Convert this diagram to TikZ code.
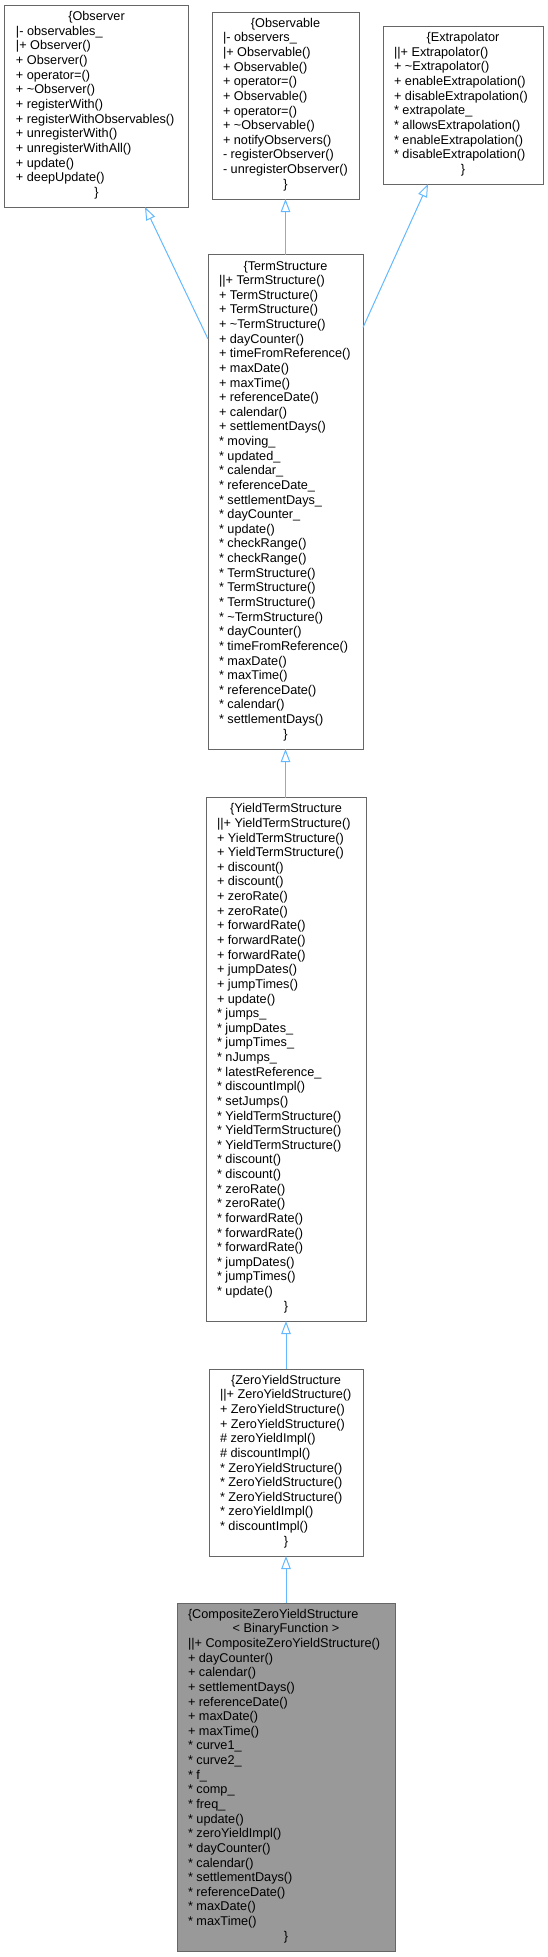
\documentclass[tikz,border=0pt]{standalone}
\usepackage{fontspec}
\setmainfont{Liberation Sans}
\usetikzlibrary{arrows.meta,calc}
\definecolor{boxgray}{HTML}{666666}
\definecolor{edgeblue}{HTML}{63B8FF}
\definecolor{fillgray}{HTML}{999999}
\newcommand{\ctrline}[1]{\makebox[\linewidth][c]{#1}}
\newcommand{\tl}{\textasciitilde}
\newcommand{\st}{{*}}
\tikzset{
  clsbox/.style={draw=boxgray, line width=1pt, fill=white, rectangle, inner sep=0pt, outer sep=0pt, anchor=north west},
  clstext/.style={anchor=base west, inner sep=0pt, outer sep=0pt, font=\fontsize{12.7}{14.63}\selectfont},
  inh/.style={draw=edgeblue, line width=1pt, -{Triangle[open, length=13pt, width=9.5pt]}},
}
\begin{document}
\begin{tikzpicture}[x=1pt,y=-1pt]
\useasboundingbox (0,0) rectangle (548,1957);
% boxes
\node[clsbox, minimum width=183.5pt, minimum height=201.6pt] (observer) at (4.5,5.4) {};
\node[clsbox, minimum width=147pt, minimum height=187pt] (observable) at (212,12) {};
\node[clsbox, minimum width=160pt, minimum height=157.7pt] (extrap) at (383,26.3) {};
\node[clsbox, minimum width=155pt, minimum height=494.3pt] (term) at (208,254.7) {};
\node[clsbox, minimum width=160pt, minimum height=523.5pt] (yield) at (206,797.5) {};
\node[clsbox, minimum width=154pt, minimum height=187pt] (zero) at (209,1369) {};
\node[clsbox, fill=fillgray, minimum width=218pt, minimum height=348pt] (comp) at (177,1603) {};
% texts
\node[clstext] (observer-t) at (16,20.7) {\parbox[t]{161pt}{\raggedright
\ctrline{\{Observer}\\
|- observables\_\\
|+ Observer()\\
+ Observer()\\
+ operator=()\\
+ \tl Observer()\\
+ registerWith()\\
+ registerWithObservables()\\
+ unregisterWith()\\
+ unregisterWithAll()\\
+ update()\\
+ deepUpdate()\\
\ctrline{\}}}};
\node[clstext] (observable-t) at (223,27.3) {\parbox[t]{125pt}{\raggedright
\ctrline{\{Observable}\\
|- observers\_\\
|+ Observable()\\
+ Observable()\\
+ operator=()\\
+ Observable()\\
+ operator=()\\
+ \tl Observable()\\
+ notifyObservers()\\
- registerObserver()\\
- unregisterObserver()\\
\ctrline{\}}}};
\node[clstext] (extrap-t) at (394,41.6) {\parbox[t]{138pt}{\raggedright
\ctrline{\{Extrapolator}\\
||+ Extrapolator()\\
+ \tl Extrapolator()\\
+ enableExtrapolation()\\
+ disableExtrapolation()\\
\st{} extrapolate\_\\
\st{} allowsExtrapolation()\\
\st{} enableExtrapolation()\\
\st{} disableExtrapolation()\\
\ctrline{\}}}};
\node[clstext] (term-t) at (219,270) {\parbox[t]{133pt}{\raggedright
\ctrline{\{TermStructure}\\
||+ TermStructure()\\
+ TermStructure()\\
+ TermStructure()\\
+ \tl TermStructure()\\
+ dayCounter()\\
+ timeFromReference()\\
+ maxDate()\\
+ maxTime()\\
+ referenceDate()\\
+ calendar()\\
+ settlementDays()\\
\st{} moving\_\\
\st{} updated\_\\
\st{} calendar\_\\
\st{} referenceDate\_\\
\st{} settlementDays\_\\
\st{} dayCounter\_\\
\st{} update()\\
\st{} checkRange()\\
\st{} checkRange()\\
\st{} TermStructure()\\
\st{} TermStructure()\\
\st{} TermStructure()\\
\st{} \tl TermStructure()\\
\st{} dayCounter()\\
\st{} timeFromReference()\\
\st{} maxDate()\\
\st{} maxTime()\\
\st{} referenceDate()\\
\st{} calendar()\\
\st{} settlementDays()\\
\ctrline{\}}}};
\node[clstext] (yield-t) at (217,812.8) {\parbox[t]{138pt}{\raggedright
\ctrline{\{YieldTermStructure}\\
||+ YieldTermStructure()\\
+ YieldTermStructure()\\
+ YieldTermStructure()\\
+ discount()\\
+ discount()\\
+ zeroRate()\\
+ zeroRate()\\
+ forwardRate()\\
+ forwardRate()\\
+ forwardRate()\\
+ jumpDates()\\
+ jumpTimes()\\
+ update()\\
\st{} jumps\_\\
\st{} jumpDates\_\\
\st{} jumpTimes\_\\
\st{} nJumps\_\\
\st{} latestReference\_\\
\st{} discountImpl()\\
\st{} setJumps()\\
\st{} YieldTermStructure()\\
\st{} YieldTermStructure()\\
\st{} YieldTermStructure()\\
\st{} discount()\\
\st{} discount()\\
\st{} zeroRate()\\
\st{} zeroRate()\\
\st{} forwardRate()\\
\st{} forwardRate()\\
\st{} forwardRate()\\
\st{} jumpDates()\\
\st{} jumpTimes()\\
\st{} update()\\
\ctrline{\}}}};
\node[clstext] (zero-t) at (220,1384.3) {\parbox[t]{132pt}{\raggedright
\ctrline{\{ZeroYieldStructure}\\
||+ ZeroYieldStructure()\\
+ ZeroYieldStructure()\\
+ ZeroYieldStructure()\\
\# zeroYieldImpl()\\
\# discountImpl()\\
\st{} ZeroYieldStructure()\\
\st{} ZeroYieldStructure()\\
\st{} ZeroYieldStructure()\\
\st{} zeroYieldImpl()\\
\st{} discountImpl()\\
\ctrline{\}}}};
\node[clstext] (comp-t) at (188,1618.3) {\parbox[t]{196pt}{\raggedright
\{CompositeZeroYieldStructure\\
\ctrline{< BinaryFunction >}\\
||+ CompositeZeroYieldStructure()\\
+ dayCounter()\\
+ calendar()\\
+ settlementDays()\\
+ referenceDate()\\
+ maxDate()\\
+ maxTime()\\
\st{} curve1\_\\
\st{} curve2\_\\
\st{} f\_\\
\st{} comp\_\\
\st{} freq\_\\
\st{} update()\\
\st{} zeroYieldImpl()\\
\st{} dayCounter()\\
\st{} calendar()\\
\st{} settlementDays()\\
\st{} referenceDate()\\
\st{} maxDate()\\
\st{} maxTime()\\
\ctrline{\}}}};
% inheritance edges
\draw[inh] ($(term.north west)+(0,84.3)$) -- ($(observer.south west)+(140.5,0)$);
\draw[inh] (term.north -| observable.south) -- (observable.south);
\draw[inh] ($(term.north east)+(0,72.8)$) -- ($(extrap.south west)+(45,0)$);
\draw[inh] (yield.north -| term.south) -- (term.south);
\draw[inh] (zero.north -| yield.south) -- (yield.south);
\draw[inh] (comp.north -| zero.south) -- (zero.south);
\end{tikzpicture}
\end{document}
